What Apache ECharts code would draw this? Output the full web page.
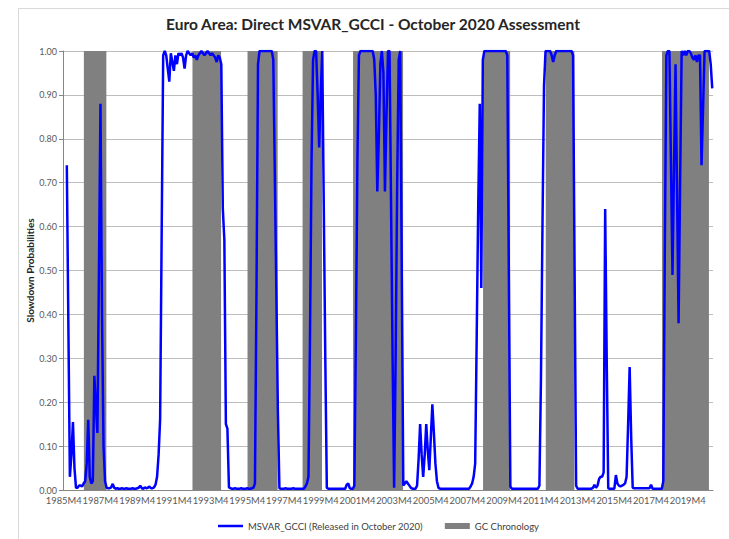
<!DOCTYPE html>
<html><head><meta charset="utf-8">
<script src="https://cdn.jsdelivr.net/npm/echarts@6/dist/echarts.min.js"></script>
<style>html,body{margin:0;padding:0;background:#fff}#c{width:729px;height:539px}</style>
</head><body><div id="c"></div>
<script>
// Monthly categories: 1985M4 .. 2020M8
const firstYear = 1985, firstMonth = 4, monthCount = 425;

// MSVAR_GCCI slowdown probabilities, one array per calendar year
const p1985 = [null, null, 0.74, 0.38, 0.03, 0.08, 0.155, 0.05, 0.005];
const p1986 = [0.005, 0.01, 0.01, 0.008, 0.015, 0.02, 0.06, 0.16, 0.03, 0.015, 0.02, 0.26];
const p1987 = [0.19, 0.13, 0.5, 0.88, 0.4, 0.1, 0.02, 0.005, 0.004, 0.004, 0.006, 0.014];
const p1988 = [0.005, 0.003, 0.004, 0.003, 0.003, 0.004, 0.003, 0.003, 0.004, 0.003, 0.003, 0.003];
const p1989 = [0.004, 0.003, 0.003, 0.004, 0.005, 0.01, 0.004, 0.003, 0.006, 0.004, 0.005, 0.008];
const p1990 = [0.004, 0.004, 0.006, 0.012, 0.03, 0.08, 0.16, 0.58, 0.99, 1.0, 0.99, 0.96];
const p1991 = [0.93, 0.995, 0.975, 0.955, 0.99, 0.97, 0.995, 0.99, 0.995, 0.985, 0.96, 0.99];
const p1992 = [1.0, 0.995, 0.99, 0.995, 0.985, 0.99, 0.98, 0.99, 0.995, 1.0, 0.995, 0.99];
const p1993 = [0.995, 1.0, 0.995, 0.99, 0.995, 0.99, 0.985, 0.975, 0.99, 0.985, 0.97, 0.64];
const p1994 = [0.57, 0.15, 0.14, 0.006, 0.004, 0.003, 0.003, 0.004, 0.003, 0.003, 0.003, 0.004];
const p1995 = [0.003, 0.003, 0.003, 0.004, 0.003, 0.003, 0.004, 0.005, 0.015, 0.45, 0.97, 1.0];
const p1996 = [1.0, 1.0, 1.0, 1.0, 1.0, 1.0, 1.0, 1.0, 0.98, 0.72, 0.45, 0.18];
const p1997 = [0.004, 0.003, 0.003, 0.003, 0.004, 0.003, 0.003, 0.003, 0.003, 0.004, 0.003, 0.003];
const p1998 = [0.003, 0.003, 0.003, 0.003, 0.003, 0.008, 0.015, 0.03, 0.35, 0.75, 0.98, 1.0];
const p1999 = [1.0, 0.9, 0.78, 0.9, 1.0, 0.65, 0.3, 0.005, 0.003, 0.003, 0.003, 0.003];
const p2000 = [0.003, 0.003, 0.003, 0.003, 0.003, 0.003, 0.003, 0.003, 0.012, 0.015, 0.004, 0.003];
const p2001 = [0.003, 0.01, 0.35, 0.75, 0.99, 1.0, 1.0, 1.0, 1.0, 1.0, 1.0, 1.0];
const p2002 = [1.0, 1.0, 0.98, 0.9, 0.68, 0.8, 0.97, 1.0, 0.95, 0.68, 0.85, 1.0];
const p2003 = [1.0, 0.65, 0.3, 0.005, 0.3, 0.7, 0.98, 1.0, 0.5, 0.01, 0.015, 0.02];
const p2004 = [0.015, 0.01, 0.005, 0.003, 0.003, 0.003, 0.01, 0.07, 0.15, 0.08, 0.03, 0.08];
const p2005 = [0.15, 0.09, 0.045, 0.12, 0.195, 0.13, 0.06, 0.02, 0.005, 0.003, 0.003, 0.003];
const p2006 = [0.003, 0.003, 0.003, 0.003, 0.003, 0.003, 0.003, 0.003, 0.003, 0.003, 0.003, 0.003];
const p2007 = [0.003, 0.003, 0.003, 0.003, 0.003, 0.008, 0.015, 0.03, 0.06, 0.35, 0.65, 0.88];
const p2008 = [0.46, 0.98, 1.0, 1.0, 1.0, 1.0, 1.0, 1.0, 1.0, 1.0, 1.0, 1.0];
const p2009 = [1.0, 1.0, 1.0, 1.0, 1.0, 0.99, 0.5, 0.008, 0.003, 0.003, 0.003, 0.003];
const p2010 = [0.003, 0.003, 0.003, 0.003, 0.003, 0.003, 0.003, 0.003, 0.003, 0.003, 0.003, 0.003];
const p2011 = [0.003, 0.003, 0.01, 0.25, 0.6, 0.92, 1.0, 1.0, 1.0, 1.0, 0.99, 0.975];
const p2012 = [0.99, 1.0, 1.0, 1.0, 1.0, 1.0, 1.0, 1.0, 1.0, 1.0, 1.0, 1.0];
const p2013 = [0.99, 0.5, 0.01, 0.003, 0.003, 0.003, 0.003, 0.003, 0.003, 0.003, 0.003, 0.003];
const p2014 = [0.003, 0.005, 0.012, 0.005, 0.01, 0.025, 0.03, 0.03, 0.04, 0.64, 0.3, 0.004];
const p2015 = [0.003, 0.003, 0.003, 0.003, 0.034, 0.015, 0.01, 0.008, 0.01, 0.012, 0.015, 0.03];
const p2016 = [0.15, 0.28, 0.12, 0.005, 0.004, 0.004, 0.004, 0.004, 0.004, 0.004, 0.004, 0.004];
const p2017 = [0.004, 0.004, 0.004, 0.012, 0.003, 0.003, 0.003, 0.003, 0.003, 0.003, 0.003, 0.02];
const p2018 = [0.55, 0.99, 1.0, 1.0, 0.75, 0.49, 0.73, 0.97, 0.68, 0.38, 0.7, 1.0];
const p2019 = [0.99, 1.0, 0.99, 1.0, 1.0, 0.995, 0.985, 0.98, 0.99, 0.975, 0.99, 0.99];
const p2020 = [0.74, 0.87, 1.0, 1.0, 1.0, 1.0, 0.97, 0.915];

// GC chronology (shaded slowdown periods), first and last month
const gcStart = ['1986M6', '1992M5', '1995M5', '1998M5', '2001M2', '2008M3', '2011M8', '2017M12'];
const gcEnd   = ['1987M7', '1993M10', '1996M11', '1999M4', '2003M9', '2009M7', '2013M1', '2020M5'];

const seriesLineName = 'MSVAR_GCCI (Released in October 2020)';
const seriesBarName = 'GC Chronology';
const titleText = 'Euro Area: Direct MSVAR_GCCI - October 2020 Assessment';
const yAxisTitle = 'Slowdown Probabilities';

const categories = [];
for (let k = 0; k < monthCount; k++) {
  const m = firstMonth - 1 + k;
  categories.push((firstYear + Math.floor(m / 12)) + 'M' + ((m % 12) + 1));
}
const probability = [].concat(p1985, p1986, p1987, p1988, p1989, p1990, p1991, p1992, p1993,
  p1994, p1995, p1996, p1997, p1998, p1999, p2000, p2001, p2002, p2003, p2004, p2005, p2006,
  p2007, p2008, p2009, p2010, p2011, p2012, p2013, p2014, p2015, p2016, p2017, p2018, p2019, p2020);

const gcData = categories.map(() => '-');
gcStart.forEach((s, j) => {
  const a = categories.indexOf(s), b = categories.indexOf(gcEnd[j]);
  for (let k = a; k <= b; k++) gcData[k] = 1;
});

const chart = echarts.init(document.getElementById('c'), null, { renderer: 'svg' });
const font = 'Lato, "Liberation Sans", sans-serif';
chart.setOption({
  animation: false,
  backgroundColor: '#ffffff',
  title: {
    text: titleText, left: 166, top: 16, padding: 0,
    textStyle: { fontFamily: font, fontSize: 15.5, fontWeight: 'bold', color: '#262626' }
  },
  legend: {
    bottom: 8, left: 218, padding: 0, itemGap: 22, itemWidth: 25, itemHeight: 6,
    textStyle: { fontFamily: font, fontSize: 9.5, color: '#404040' },
    data: [
      { name: seriesLineName, icon: 'path://M0,0H25V2.5H0Z' },
      { name: seriesBarName, icon: 'rect' }
    ]
  },
  grid: { left: 63, right: 16, top: 51, bottom: 49 },
  graphic: [{
    type: 'rect', silent: true, z: -10,
    shape: { x: 18.5, y: 8.5, width: 720, height: 540 },
    style: { fill: 'none', stroke: '#d9d9d9', lineWidth: 1 }
  }],
  xAxis: {
    type: 'category', data: categories, boundaryGap: true,
    axisLine: { lineStyle: { color: '#868686' } },
    axisTick: { interval: 11, length: 4, lineStyle: { color: '#868686' } },
    axisLabel: { interval: 23, hideOverlap: false,
      fontFamily: font, fontSize: 9.4, color: '#595959', margin: 6 },
    splitLine: { show: false }
  },
  yAxis: {
    type: 'value', min: 0, max: 1, interval: 0.1,
    name: yAxisTitle, nameLocation: 'middle', nameGap: 28, nameMoveOverlap: false,
    nameTextStyle: { fontFamily: font, fontSize: 10, fontWeight: 'bold', color: '#262626' },
    axisLine: { show: true, lineStyle: { color: '#868686' } },
    axisTick: { show: true, length: 4, lineStyle: { color: '#868686' } },
    axisLabel: { fontFamily: font, fontSize: 9, color: '#595959', margin: 6,
      formatter: v => v.toFixed(2) },
    splitLine: { lineStyle: { color: '#bdbdbd', width: 1 } }
  },
  series: [
    {
      name: seriesBarName, type: 'bar', data: gcData, barWidth: '170%',
      itemStyle: { color: '#808080' }, z: 1
    },
    {
      name: seriesLineName, type: 'line', data: probability, symbol: 'none', showSymbol: false,
      connectNulls: false, lineStyle: { color: '#0000ff', width: 2.5 }, itemStyle: { color: '#0000ff' }, z: 3
    }
  ]
});
</script></body></html>
